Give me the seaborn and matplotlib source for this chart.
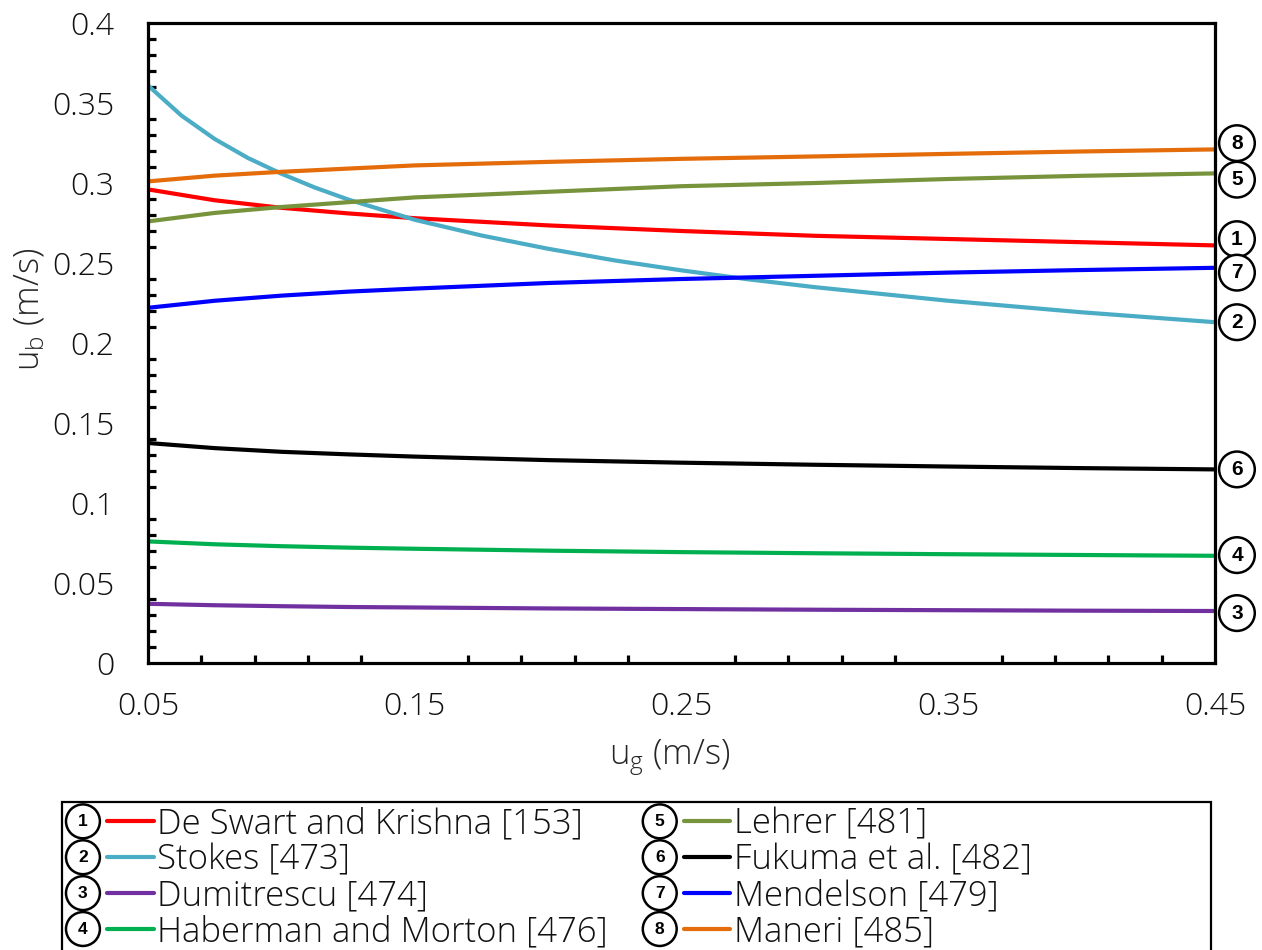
import numpy as np
import pandas as pd
import matplotlib
matplotlib.use('Agg')
import matplotlib.pyplot as plt
import seaborn as sns
import matplotlib.patches as mpatches
import matplotlib.text as mtext
from matplotlib.lines import Line2D
from matplotlib.legend_handler import HandlerBase
from matplotlib.ticker import MultipleLocator, FuncFormatter

# gas velocity (x) and bubble rise velocity for each correlation
ug = [0.05, 0.075, 0.1, 0.125, 0.15, 0.2, 0.25, 0.3, 0.35, 0.4, 0.45]
ug_stokes = [0.05, 0.0625, 0.075, 0.0875, 0.1, 0.1125, 0.125, 0.15, 0.175, 0.2,
             0.225, 0.25, 0.275, 0.3, 0.35, 0.4, 0.45]
de_swart = [0.296, 0.2892, 0.2845, 0.281, 0.278, 0.2735, 0.270, 0.267, 0.265, 0.263, 0.261]
stokes = [0.361, 0.3422, 0.3275, 0.3156, 0.3058, 0.2972, 0.2897, 0.277, 0.2672, 0.2589,
          0.2516, 0.2454, 0.2398, 0.2349, 0.2264, 0.2192, 0.213]
dumitrescu = [0.037, 0.0361, 0.0355, 0.0350, 0.0347, 0.0341, 0.0337, 0.0333, 0.0330, 0.0327, 0.0325]
haberman = [0.076, 0.0742, 0.0730, 0.0721, 0.0714, 0.0702, 0.0693, 0.0686, 0.0680, 0.0675, 0.067]
lehrer = [0.276, 0.2813, 0.285, 0.288, 0.291, 0.2945, 0.298, 0.300, 0.3025, 0.3045, 0.306]
fukuma = [0.1375, 0.1343, 0.132, 0.1304, 0.129, 0.1268, 0.1252, 0.1239, 0.1228, 0.1218, 0.121]
mendelson = [0.222, 0.2264, 0.2296, 0.2321, 0.234, 0.2375, 0.240, 0.242, 0.244, 0.2456, 0.247]
maneri = [0.301, 0.3046, 0.307, 0.309, 0.311, 0.3132, 0.3151, 0.3166, 0.3182, 0.3197, 0.321]

labels = ['De Swart and Krishna [153]', 'Stokes [473]', 'Dumitrescu [474]',
          'Haberman and Morton [476]', 'Lehrer [481]', 'Fukuma et al. [482]',
          'Mendelson [479]', 'Maneri [485]']
numbers = ['1', '2', '3', '4', '5', '6', '7', '8']
series = [de_swart, stokes, dumitrescu, haberman, lehrer, fukuma, mendelson, maneri]
xs = [ug, ug_stokes, ug, ug, ug, ug, ug, ug]
colors = ['#FF0000', '#4BACC6', '#7030A0', '#00B050', '#77933C', '#000000', '#0000FF', '#E46C0A']
# small vertical nudges (points) of the end-of-line circled numbers
nudge = [4.5, 0, -1.5, 0.5, -4.5, 0, -3.5, 4.5]

df = pd.concat([pd.DataFrame({'ug': x, 'ub': s, 'model': lab})
                for x, s, lab in zip(xs, series, labels)])

FONT = ['Open Sans', 'DejaVu Sans']
sns.set_theme(style='white')
plt.rcParams['font.family'] = FONT
plt.rcParams['font.weight'] = 'light'
plt.rcParams['axes.labelweight'] = 'light'
plt.rcParams['mathtext.fontset'] = 'custom'
plt.rcParams['mathtext.rm'] = 'Open Sans:light'
plt.rcParams['mathtext.it'] = 'Open Sans:light'
plt.rcParams['text.color'] = '#111111'

fig = plt.figure(figsize=(12.62, 9.5), dpi=100)
ax = fig.add_axes([148 / 1262, 1 - 663 / 950, (1215 - 148) / 1262, 640 / 950])

sns.lineplot(data=df, x='ug', y='ub', hue='model', hue_order=labels,
             palette=dict(zip(labels, colors)), linewidth=3, legend=False, ax=ax)

ax.set_xlim(0.05, 0.45)
ax.set_ylim(0, 0.4)
ax.xaxis.set_major_locator(MultipleLocator(0.1, offset=0.05))
ax.xaxis.set_minor_locator(MultipleLocator(0.02, offset=0.01))
ax.yaxis.set_major_locator(MultipleLocator(0.05))
ax.yaxis.set_minor_locator(MultipleLocator(0.01))
fmt = FuncFormatter(lambda v, p: '{:g}'.format(round(v, 3)))
ax.xaxis.set_major_formatter(fmt)
ax.yaxis.set_major_formatter(fmt)

for sp in ax.spines.values():
    sp.set_linewidth(2.3)
    sp.set_color('black')
ax.tick_params(which='major', direction='inout', length=14, width=2.3, color='black',
               labelsize=23, labelcolor='#111111', top=False, right=False)
ax.tick_params(axis='x', which='major', pad=13)
ax.tick_params(axis='y', which='major', pad=17)
ax.tick_params(which='minor', direction='in', length=6, width=2.3, color='black',
               bottom=True, left=True, top=False, right=False)

ax.set_xlabel(r'u$_\mathrm{g}$ (m/s)', fontsize=25, fontweight='light')
ax.set_ylabel(r'u$_\mathrm{b}$ (m/s)', fontsize=25, fontweight='light')
ax.xaxis.set_label_coords(0.489, -0.117)
ax.yaxis.set_label_coords(-0.0947, 0.553)

# circled numbers at line ends
for s, n, dy in zip(series, numbers, nudge):
    ax.annotate(n, xy=(0.45, s[-1]), xytext=(15.8, dy), textcoords='offset points',
                ha='center', va='center', fontsize=15, fontweight='bold',
                family=['Liberation Sans', 'DejaVu Sans'], color='black',
                bbox=dict(boxstyle='circle,pad=0.4', fc='white', ec='black', lw=1.8),
                annotation_clip=False)


class CircledLine(HandlerBase):
    def create_artists(self, legend, orig_handle, xdescent, ydescent, width, height, fontsize, trans):
        cy = height / 2 - ydescent
        cx = -xdescent + 12.2
        circ = mpatches.Circle((cx, cy), 12.2, fc='white', ec='black', lw=1.8, transform=trans)
        num = mtext.Text(cx, cy, orig_handle.num, ha='center', va='center', fontsize=12.5,
                         fontweight='bold', family=['Liberation Sans', 'DejaVu Sans'],
                         color='black', transform=trans)
        ln = Line2D([-xdescent + 29.5, -xdescent + width], [cy, cy],
                    color=orig_handle.get_color(), lw=3, transform=trans)
        return [circ, num, ln]


handles = []
for c, n in zip(colors, numbers):
    h = Line2D([], [], color=c)
    h.num = n
    handles.append(h)

fig.legend(handles, labels, handler_map={Line2D: CircledLine()}, ncol=2, frameon=False,
           loc='upper left', bbox_to_anchor=(66 / 1262, 1 - 807 / 950), borderpad=0,
           borderaxespad=0, fontsize=25, handlelength=63 / 25, handletextpad=0.11,
           labelspacing=0.04, columnspacing=1.0)

fig.add_artist(mpatches.Rectangle((62 / 1262, -0.05), (1211 - 62) / 1262, 0.05 + 1 - 802 / 950,
                                  transform=fig.transFigure, fill=False, ec='black', lw=1.6))

fig.savefig('out.png', dpi=100)
